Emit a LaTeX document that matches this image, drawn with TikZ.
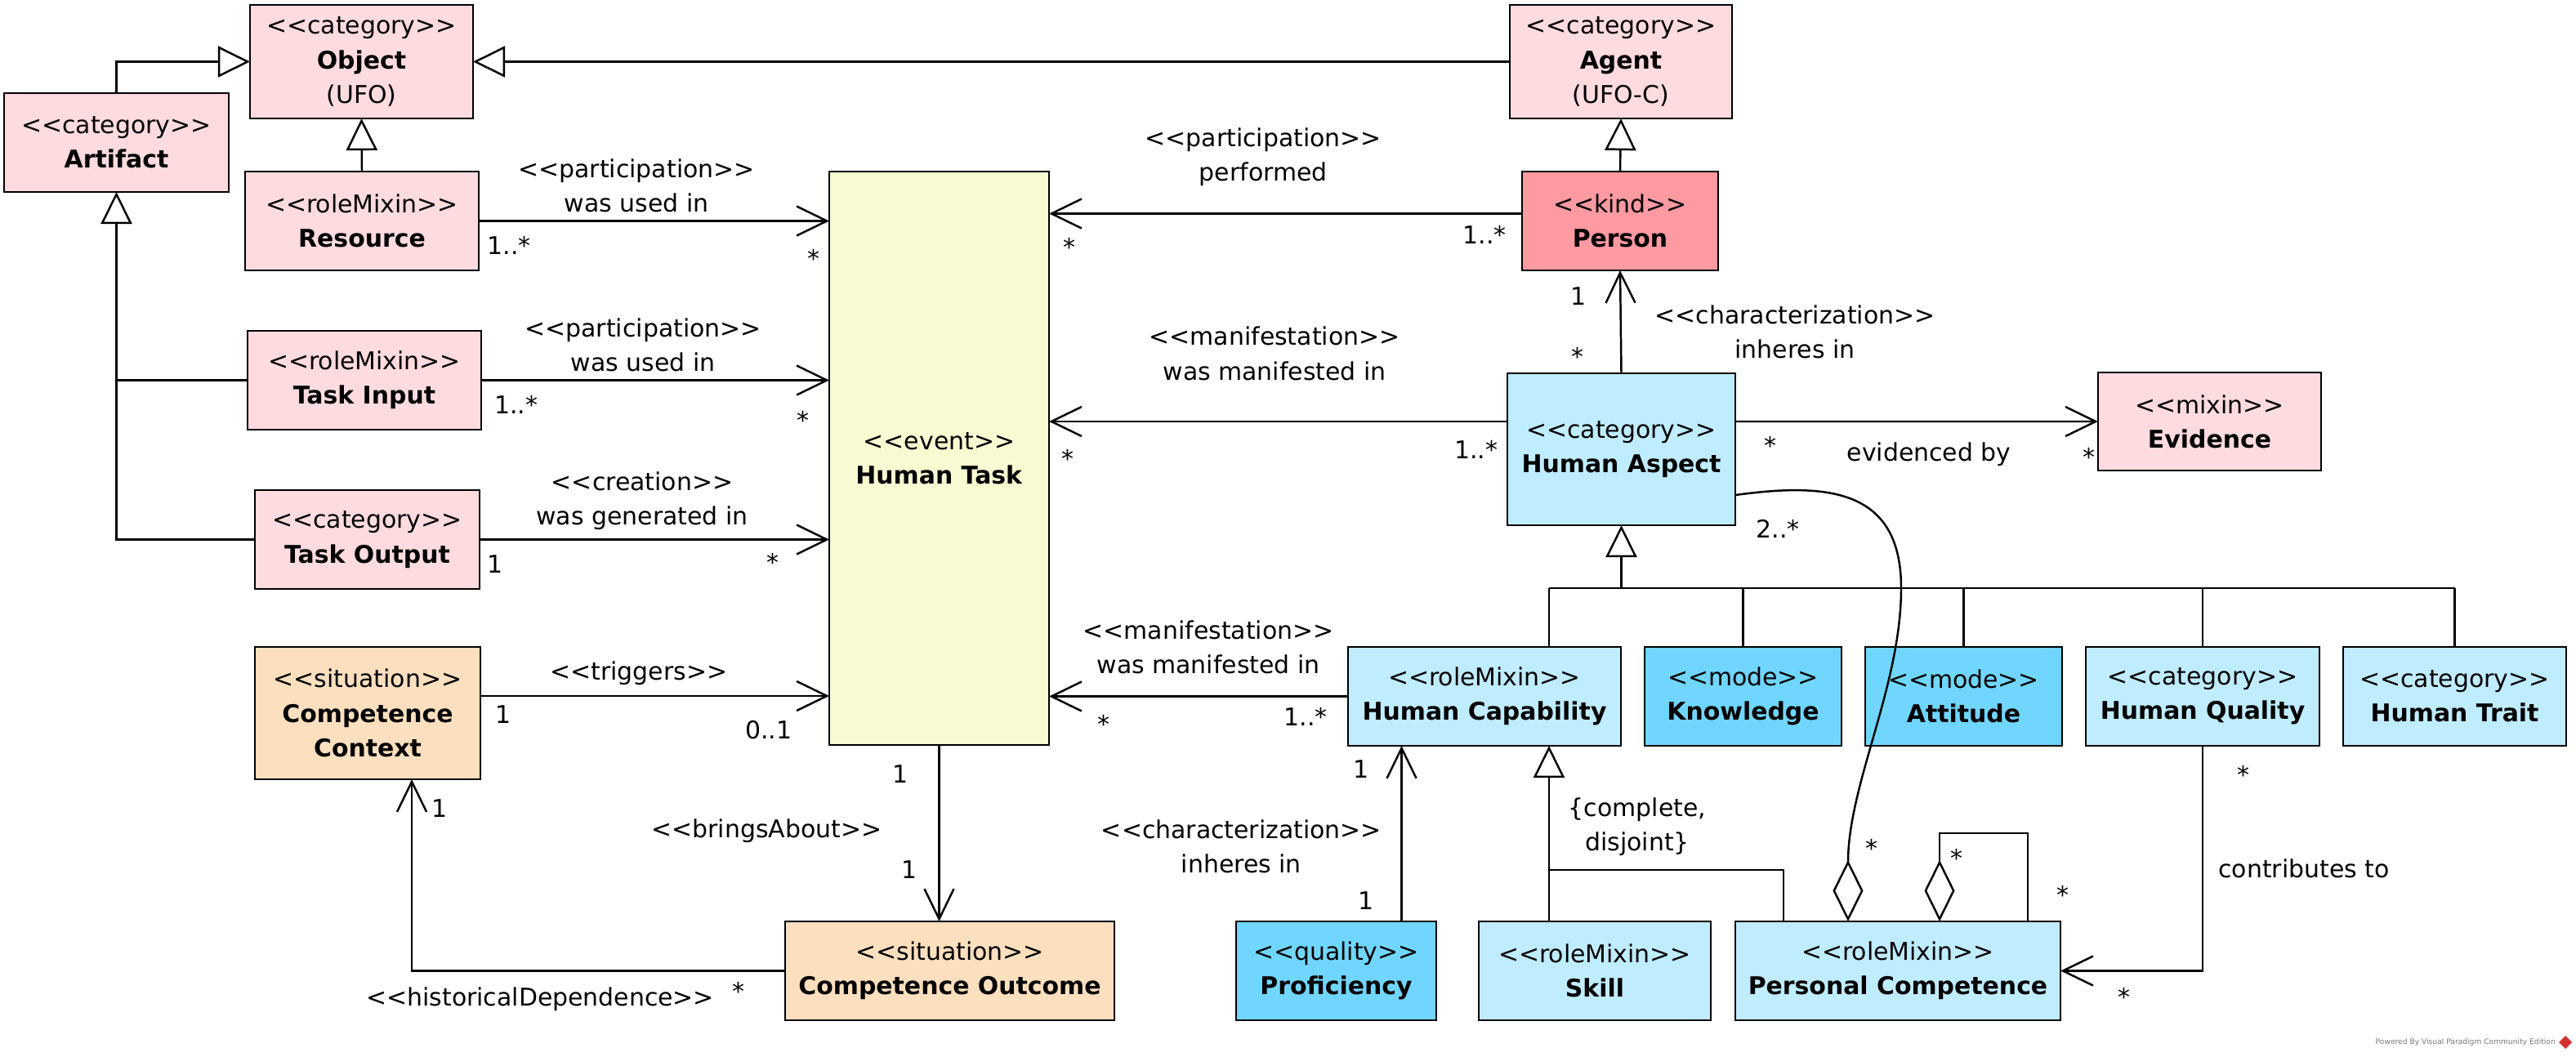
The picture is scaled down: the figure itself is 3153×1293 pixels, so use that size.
\documentclass[tikz,border=0pt]{standalone}
\usepackage{fontspec}
\setmainfont{DejaVu Sans}
\usetikzlibrary{arrows.meta,calc}
\definecolor{pinkbox}{RGB}{254,219,223}
\definecolor{kindbox}{RGB}{255,153,162}
\definecolor{eventbox}{RGB}{250,250,210}
\definecolor{situbox}{RGB}{252,223,190}
\definecolor{aspectbox}{RGB}{191,236,255}
\definecolor{modebox}{RGB}{112,214,255}
\definecolor{wmgray}{RGB}{120,120,120}
\definecolor{vpred}{RGB}{214,48,48}
\newcommand{\stereo}[1]{<\kern0pt<#1>\kern0pt>}

\begin{document}
\begin{tikzpicture}[x=0.01cm, y=-0.01cm, line width=0.7pt,
  font=\fontsize{8.5}{12}\selectfont,
  cls/.style={draw, align=center, inner sep=0pt, outer sep=0pt, minimum height=1.21cm},
  assoc/.style={-{Straight Barb[length=3.7mm,width=3.6mm]}},
  gen/.style={-{Triangle[open,length=3.9mm,width=3.8mm]}},
  aggr/.style={{Diamond[open,length=7.5mm,width=3.7mm]}-},
  lbl/.style={align=center, inner sep=1pt}]
\useasboundingbox (0,0) rectangle (3153,1293);

\node[cls, fill=pinkbox, minimum width=2.73cm, minimum height=1.39cm] (object) at (442.5,75.5) {\stereo{category}\\\textbf{Object}\\(UFO)};
\node[cls, fill=pinkbox, minimum width=2.75cm] (artifact) at (142.5,174.5) {\stereo{category}\\\textbf{Artifact}};
\node[cls, fill=pinkbox, minimum width=2.86cm] (resource) at (443,270.5) {\stereo{roleMixin}\\\textbf{Resource}};
\node[cls, fill=pinkbox, minimum width=2.86cm] (taskin) at (446,465.5) {\stereo{roleMixin}\\\textbf{Task Input}};
\node[cls, fill=pinkbox, minimum width=2.75cm] (taskout) at (449.5,660.5) {\stereo{category}\\\textbf{Task Output}};
\node[cls, fill=situbox, minimum width=2.76cm, minimum height=1.62cm] (cc) at (450,873) {\stereo{situation}\\\textbf{Competence}\\\textbf{Context}};
\node[cls, fill=eventbox, minimum width=2.69cm, minimum height=7.02cm] (ht) at (1149.5,561) {\stereo{event}\\\textbf{Human Task}};
\node[cls, fill=situbox, minimum width=4.03cm] (co) at (1162.5,1188.5) {\stereo{situation}\\\textbf{Competence Outcome}};
\node[cls, fill=pinkbox, minimum width=2.72cm, minimum height=1.39cm] (agent) at (1984,75.5) {\stereo{category}\\\textbf{Agent}\\(UFO-C)};
\node[cls, fill=kindbox, minimum width=2.40cm] (person) at (1983,270.5) {\stereo{kind}\\\textbf{Person}};
\node[cls, fill=aspectbox, minimum width=2.79cm, minimum height=1.86cm] (ha) at (1984.5,550) {\stereo{category}\\\textbf{Human Aspect}};
\node[cls, fill=pinkbox, minimum width=2.73cm, minimum height=1.20cm] (evid) at (2704.5,516) {\stereo{mixin}\\\textbf{Evidence}};
\node[cls, fill=aspectbox, minimum width=3.34cm] (hc) at (1817,852.5) {\stereo{roleMixin}\\\textbf{Human Capability}};
\node[cls, fill=modebox, minimum width=2.41cm] (know) at (2133.5,852.5) {\stereo{mode}\\\textbf{Knowledge}};
\node[cls, fill=modebox, minimum width=2.41cm] (att) at (2403.5,852.5) {\stereo{mode}\\\textbf{Attitude}};
\node[cls, fill=aspectbox, minimum width=2.86cm] (hq) at (2696,852.5) {\stereo{category}\\\textbf{Human Quality}};
\node[cls, fill=aspectbox, minimum width=2.73cm] (htrait) at (3004.5,852.5) {\stereo{category}\\\textbf{Human Trait}};
\node[cls, fill=modebox, minimum width=2.45cm] (prof) at (1635.5,1188.5) {\stereo{quality}\\\textbf{Proficiency}};
\node[cls, fill=aspectbox, minimum width=2.84cm] (skill) at (1952,1188.5) {\stereo{roleMixin}\\\textbf{Skill}};
\node[cls, fill=aspectbox, minimum width=3.98cm] (pc) at (2323,1188.5) {\stereo{roleMixin}\\\textbf{Personal Competence}};

\path
  (resource.east) edge[assoc] node[lbl,pos=.45,yshift=.43cm]{\stereo{participation}\\was used in}
    node[lbl,pos=.086,yshift=-.30cm]{1..*} node[lbl,pos=.956,yshift=-.46cm]{*} (resource.east -| ht.west)
  (taskin.east) edge[assoc] node[lbl,pos=.465,yshift=.43cm]{\stereo{participation}\\was used in}
    node[lbl,pos=.10,yshift=-.30cm]{1..*} node[lbl,pos=.925,yshift=-.49cm]{*} (taskin.east -| ht.west)
  (taskout.east) edge[assoc] node[lbl,pos=.465,yshift=.47cm]{\stereo{creation}\\was generated in}
    node[lbl,pos=.044,yshift=-.30cm]{1} node[lbl,pos=.84,yshift=-.28cm]{*} (taskout.east -| ht.west)
  ([yshift=.21cm]cc.east) edge[assoc] node[lbl,pos=.454,yshift=.28cm]{\stereo{triggers}}
    node[lbl,pos=.066,yshift=-.23cm]{1} node[lbl,pos=.826,yshift=-.42cm]{0..1} ([yshift=.21cm]cc.east -| ht.west)
  ([yshift=.09cm]person.west) edge[assoc] node[lbl,pos=.547,yshift=.69cm]{\stereo{participation}\\performed}
    node[lbl,pos=.079,yshift=-.26cm]{1..*} node[lbl,pos=.957,yshift=-.41cm]{*} ([yshift=.09cm]person.west -| ht.east)
  ([yshift=.34cm]ha.west) edge[assoc] node[lbl,pos=.508,yshift=.83cm]{\stereo{manifestation}\\was manifested in}
    node[lbl,pos=.068,yshift=-.34cm]{1..*} node[lbl,pos=.959,yshift=-.45cm]{*} ([yshift=.34cm]ha.west -| ht.east)
  (hc.west) edge[assoc] node[lbl,pos=.467,yshift=.60cm]{\stereo{manifestation}\\was manifested in}
    node[lbl,pos=.142,yshift=-.25cm]{1..*} node[lbl,pos=.817,yshift=-.34cm]{*} (hc.west -| ht.east)
  ([yshift=.34cm]ha.east) edge[assoc] node[lbl,pos=.534,yshift=-.40cm]{evidenced by}
    node[lbl,pos=.097,yshift=-.29cm]{*} node[lbl,pos=.975,yshift=-.43cm]{*} (evid.west)
  (ha.north) edge[assoc] node[lbl,pos=.40,xshift=2.13cm]{\stereo{characterization}\\inheres in}
    node[lbl,pos=.746,xshift=-.51cm]{1} node[lbl,pos=.167,xshift=-.53cm]{*} (person.south)
  (ht.south) edge[assoc] node[lbl,pos=.162,xshift=-.47cm]{1} node[lbl,pos=.486,xshift=-2.11cm]{\stereo{bringsAbout}}
    node[lbl,pos=.708,xshift=-.36cm]{1} (ht.south |- co.north)
  ([xshift=.8cm]prof.north) edge[assoc] node[lbl,pos=.116,xshift=-.44cm]{1}
    node[lbl,pos=.428,xshift=-1.96cm]{\stereo{characterization}\\inheres in}
    node[lbl,pos=.865,xshift=-.50cm]{1} ([xshift=.8cm]prof.north |- hc.south)
  ;

\draw[assoc] (co.west) -- node[lbl,pos=.125,yshift=-.25cm]{*} node[lbl,pos=.656,yshift=-.35cm]{\stereo{historicalDependence}}
  ([xshift=.54cm]cc.south |- co.west) -- node[lbl,pos=.85,xshift=.34cm]{1} ([xshift=.54cm]cc.south);
\draw[assoc] (hq.south) node[lbl,xshift=.50cm,yshift=-.35cm]{*} -- node[lbl,pos=.545,xshift=1.24cm]{contributes to}
  (hq.south |- pc.east) -- (pc.east) node[lbl,xshift=.78cm,yshift=-.32cm]{*};

\draw[gen] (artifact.north) |- (object.west);
\draw[gen] (agent.west) -- (object.east);
\draw[gen] (resource.north) -- (object.south);
\draw[gen] (person.north) -- (agent.south);
\draw[gen] (taskout.west) -| (artifact.south);
\draw (taskin.west) -- (taskin.west -| artifact.south);

\coordinate (gset) at (ha.south |- 0,720);
\draw[gen] (gset) -- (ha.south);
\draw ([xshift=.79cm]hc.north |- gset) -- (htrait.north |- gset);
\draw ([xshift=.79cm]hc.north |- gset) -- ([xshift=.79cm]hc.north);
\foreach \n in {know,att,hq,htrait}
  \draw (\n.north |- gset) -- (\n.north);

\draw[gen] ([xshift=-.56cm]skill.north) -- coordinate[pos=.293] (disj)
  node[lbl,pos=.54,xshift=1.08cm]{\{complete,\\disjoint\}} ([xshift=-.56cm]skill.north |- hc.south);
\draw ([xshift=-1.4cm]pc.north) |- (disj);

\draw[aggr] ([xshift=-.61cm]pc.north) .. controls (2262,960) and (2327,840) .. (2327,720)
  node[lbl,pos=0,xshift=.29cm,yshift=.90cm]{*}
  .. controls (2327,600) and (2240,590) .. ([yshift=-.56cm]ha.east)
  node[lbl,pos=1,xshift=.52cm,yshift=-.41cm]{2..*};
\draw[aggr] ([xshift=.51cm]pc.north) node[lbl,xshift=.21cm,yshift=.78cm]{*} -- ++(0,-108)
  -| ([xshift=1.59cm]pc.north) node[lbl,xshift=.43cm,yshift=.33cm]{*};

\node[font=\fontsize{2.6}{3}\selectfont, text=wmgray, anchor=east, inner sep=0pt] (vp) at (3129,1276) {Powered By Visual Paradigm Community Edition};
\fill[vpred] (3140,1268) -- (3148,1276) -- (3140,1284) -- (3132,1276) -- cycle;
\end{tikzpicture}
\end{document}
